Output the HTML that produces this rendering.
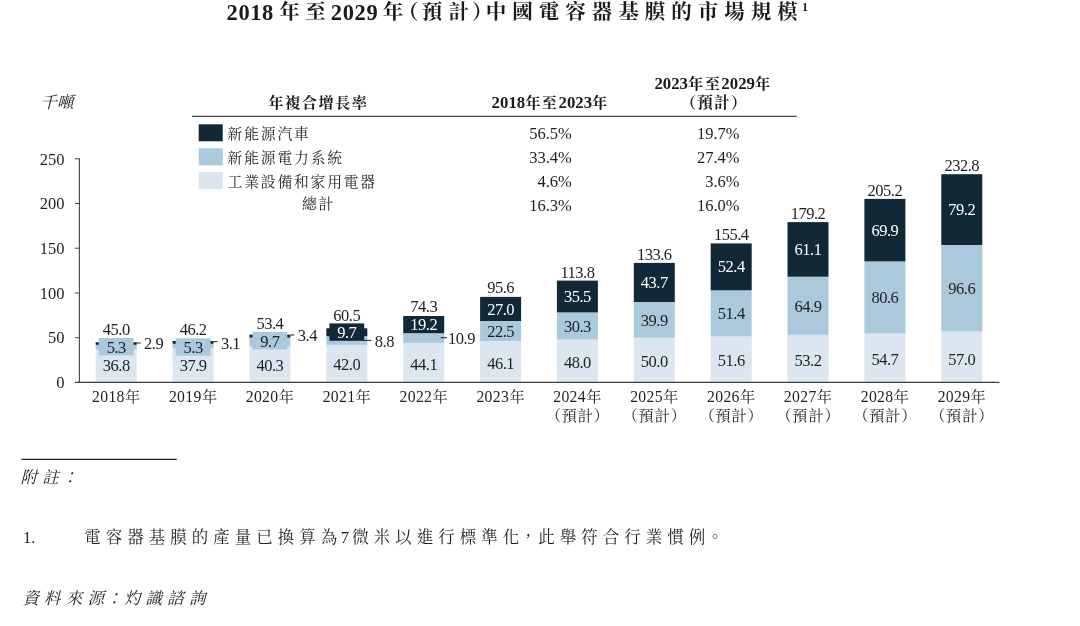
<!DOCTYPE html>
<html lang="zh-Hant">
<head>
<meta charset="utf-8">
<title>2018年至2029年（預計）中國電容器基膜的市場規模</title>
<style>
html,body{margin:0;padding:0;background:#fff;}
body{width:1080px;height:626px;overflow:hidden;}
svg{display:block;font-family:"Liberation Serif", "Noto Serif CJK TC", "Noto Serif CJK SC", serif;}
text{white-space:pre;}
</style>
</head>
<body>
<svg width="1080" height="626" viewBox="0 0 1080 626" lang="zh-Hant">
<rect x="0" y="0" width="1080" height="626" fill="#ffffff"/>
<text x="226.60" y="19.6" fill="#1a1a1a" font-size="22.5" font-weight="bold" letter-spacing="0.55">2018</text>
<text x="279.15" y="18.6" fill="#1a1a1a" font-size="20.5" font-weight="bold" letter-spacing="5.7">年至</text>
<text x="330.70" y="19.6" fill="#1a1a1a" font-size="22.5" font-weight="bold" letter-spacing="0.7">2029</text>
<text x="382.65" y="18.6" fill="#1a1a1a" font-size="20.5" font-weight="bold" letter-spacing="0">年</text>
<text x="398.00" y="18.6" fill="#1a1a1a" font-size="20.5" font-weight="bold" letter-spacing="0">（</text>
<text x="421.85" y="18.6" fill="#1a1a1a" font-size="20.5" font-weight="bold" letter-spacing="6.2">預計</text>
<text x="472.00" y="18.6" fill="#1a1a1a" font-size="20.5" font-weight="bold" letter-spacing="0">）</text>
<text x="485.85" y="18.6" fill="#1a1a1a" font-size="20.5" font-weight="bold" letter-spacing="6.0">中國電容器基膜的市場規模</text>
<text x="802" y="11.3" fill="#1a1a1a" font-size="12" font-weight="bold">1</text>
<text x="40.6" y="108.3" text-anchor="start" fill="#1f1f1f" font-size="16.5" font-style="italic" font-weight="400">千噸</text>
<text x="318.4" y="107.6" text-anchor="middle" fill="#1a1a1a" font-size="16.8" font-weight="bold"><tspan font-size="15.2" letter-spacing="1.5">年複合增長率</tspan></text>
<text x="550.2" y="108.4" text-anchor="middle" fill="#1a1a1a" font-size="16.8" font-weight="bold">2018<tspan font-size="15.2" letter-spacing="1.5">年至</tspan>2023<tspan font-size="15.2" letter-spacing="1.5">年</tspan></text>
<text x="713.0" y="89.0" text-anchor="middle" fill="#1a1a1a" font-size="16.8" font-weight="bold">2023<tspan font-size="15.2" letter-spacing="1.5">年至</tspan>2029<tspan font-size="15.2" letter-spacing="1.5">年</tspan></text>
<text x="680.5 697.3 714.1 730.9" y="108.0" fill="#1a1a1a" font-size="15.6" font-weight="bold">（預計）</text>
<line x1="192.0" y1="116.4" x2="796.6" y2="116.4" stroke="#444" stroke-width="1.1"/>
<rect x="198.7" y="124.3" width="24.0" height="17.0" fill="#112937"/>
<text x="227.6" y="139.2" text-anchor="start" fill="#262626" font-size="14.8" letter-spacing="1.8">新能源汽車</text>
<text x="571.8" y="139.3" text-anchor="end" fill="#1f1f1f" font-size="16.5" >56.5%</text>
<text x="739.6" y="139.3" text-anchor="end" fill="#1f1f1f" font-size="16.5" >19.7%</text>
<rect x="198.7" y="148.3" width="24.0" height="17.0" fill="#aac9dd"/>
<text x="227.6" y="163.2" text-anchor="start" fill="#262626" font-size="14.8" letter-spacing="1.8">新能源電力系統</text>
<text x="571.8" y="163.3" text-anchor="end" fill="#1f1f1f" font-size="16.5" >33.4%</text>
<text x="739.6" y="163.3" text-anchor="end" fill="#1f1f1f" font-size="16.5" >27.4%</text>
<rect x="198.7" y="172.1" width="24.0" height="17.0" fill="#dbe6f0"/>
<text x="227.6" y="187.0" text-anchor="start" fill="#262626" font-size="14.8" letter-spacing="1.8">工業設備和家用電器</text>
<text x="571.8" y="187.1" text-anchor="end" fill="#1f1f1f" font-size="16.5" >4.6%</text>
<text x="739.6" y="187.1" text-anchor="end" fill="#1f1f1f" font-size="16.5" >3.6%</text>
<text x="318.6" y="209.0" text-anchor="middle" fill="#262626" font-size="14.8" letter-spacing="1.8">總計</text>
<text x="571.8" y="210.5" text-anchor="end" fill="#1f1f1f" font-size="16.5" >16.3%</text>
<text x="739.6" y="210.5" text-anchor="end" fill="#1f1f1f" font-size="16.5" >16.0%</text>
<rect x="95.7" y="349.5" width="41.0" height="32.9" fill="#dbe6f0"/>
<rect x="95.7" y="344.7" width="41.0" height="4.7" fill="#aac9dd"/>
<rect x="95.7" y="342.2" width="41.0" height="2.6" fill="#112937"/>
<text x="116.2" y="371.2" text-anchor="middle" fill="#1f1f1f" font-size="16.5" letter-spacing="-0.5">36.8</text>
<rect x="98.8" y="338.0" width="34.8" height="17.4" fill="#aac9dd"/>
<text x="116.2" y="352.6" text-anchor="middle" fill="#1f1f1f" font-size="16.5" letter-spacing="-0.5">5.3</text>
<line x1="136.7" y1="343.0" x2="140.7" y2="343.0" stroke="#222" stroke-width="1"/>
<text x="144.0" y="349.2" text-anchor="start" fill="#1f1f1f" font-size="16.5" letter-spacing="-0.5">2.9</text>
<text x="116.2" y="334.7" text-anchor="middle" fill="#1f1f1f" font-size="16.5" letter-spacing="-0.5">45.0</text>
<text x="116.3" y="402.0" text-anchor="middle" fill="#1f1f1f" font-size="15.7" letter-spacing="0.35">2018<tspan font-size="15.2" dx="0.2">年</tspan></text>
<rect x="172.6" y="348.5" width="41.0" height="33.9" fill="#dbe6f0"/>
<rect x="172.6" y="343.8" width="41.0" height="4.7" fill="#aac9dd"/>
<rect x="172.6" y="341.0" width="41.0" height="2.8" fill="#112937"/>
<text x="193.1" y="370.7" text-anchor="middle" fill="#1f1f1f" font-size="16.5" letter-spacing="-0.5">37.9</text>
<rect x="175.7" y="338.3" width="34.8" height="17.4" fill="#aac9dd"/>
<text x="193.1" y="352.9" text-anchor="middle" fill="#1f1f1f" font-size="16.5" letter-spacing="-0.5">5.3</text>
<line x1="213.6" y1="341.7" x2="217.6" y2="341.7" stroke="#222" stroke-width="1"/>
<text x="220.9" y="348.6" text-anchor="start" fill="#1f1f1f" font-size="16.5" letter-spacing="-0.5">3.1</text>
<text x="193.1" y="335.0" text-anchor="middle" fill="#1f1f1f" font-size="16.5" letter-spacing="-0.5">46.2</text>
<text x="193.2" y="402.0" text-anchor="middle" fill="#1f1f1f" font-size="15.7" letter-spacing="0.35">2019<tspan font-size="15.2" dx="0.2">年</tspan></text>
<rect x="249.4" y="346.4" width="41.0" height="36.0" fill="#dbe6f0"/>
<rect x="249.4" y="337.7" width="41.0" height="8.7" fill="#aac9dd"/>
<rect x="249.4" y="334.6" width="41.0" height="3.0" fill="#112937"/>
<text x="269.9" y="370.6" text-anchor="middle" fill="#1f1f1f" font-size="16.5" letter-spacing="-0.5">40.3</text>
<rect x="252.5" y="331.9" width="34.8" height="17.4" fill="#aac9dd"/>
<text x="269.9" y="346.5" text-anchor="middle" fill="#1f1f1f" font-size="16.5" letter-spacing="-0.5">9.7</text>
<line x1="290.4" y1="335.0" x2="294.4" y2="335.0" stroke="#222" stroke-width="1"/>
<text x="297.8" y="341.2" text-anchor="start" fill="#1f1f1f" font-size="16.5" letter-spacing="-0.5">3.4</text>
<text x="269.9" y="328.6" text-anchor="middle" fill="#1f1f1f" font-size="16.5" letter-spacing="-0.5">53.4</text>
<text x="270.0" y="402.0" text-anchor="middle" fill="#1f1f1f" font-size="15.7" letter-spacing="0.35">2020<tspan font-size="15.2" dx="0.2">年</tspan></text>
<rect x="326.3" y="344.8" width="41.0" height="37.6" fill="#dbe6f0"/>
<rect x="326.3" y="336.2" width="41.0" height="8.7" fill="#aac9dd"/>
<rect x="326.3" y="328.3" width="41.0" height="7.9" fill="#112937"/>
<text x="346.8" y="370.1" text-anchor="middle" fill="#1f1f1f" font-size="16.5" letter-spacing="-0.5">42.0</text>
<rect x="329.4" y="323.4" width="34.8" height="17.4" fill="#112937"/>
<text x="346.8" y="338.0" text-anchor="middle" fill="#fff" font-size="16.5" letter-spacing="-0.5">9.7</text>
<line x1="363.8" y1="340.4" x2="371.3" y2="340.4" stroke="#222" stroke-width="1"/>
<text x="374.8" y="347.4" text-anchor="start" fill="#1f1f1f" font-size="16.5" letter-spacing="-0.5">8.8</text>
<text x="346.8" y="320.8" text-anchor="middle" fill="#1f1f1f" font-size="16.5" letter-spacing="-0.5">60.5</text>
<text x="346.9" y="402.0" text-anchor="middle" fill="#1f1f1f" font-size="15.7" letter-spacing="0.35">2021<tspan font-size="15.2" dx="0.2">年</tspan></text>
<rect x="403.2" y="343.0" width="41.0" height="39.4" fill="#dbe6f0"/>
<rect x="403.2" y="333.2" width="41.0" height="9.7" fill="#aac9dd"/>
<rect x="403.2" y="316.0" width="41.0" height="17.2" fill="#112937"/>
<text x="423.7" y="369.6" text-anchor="middle" fill="#1f1f1f" font-size="16.5" letter-spacing="-0.5">44.1</text>
<text x="423.7" y="330.2" text-anchor="middle" fill="#fff" font-size="16.5" letter-spacing="-0.5">19.2</text>
<line x1="440.7" y1="337.7" x2="447.0" y2="337.7" stroke="#222" stroke-width="1"/>
<text x="448.0" y="343.6" text-anchor="start" fill="#1f1f1f" font-size="16.5" letter-spacing="-0.5">10.9</text>
<text x="423.7" y="311.9" text-anchor="middle" fill="#1f1f1f" font-size="16.5" letter-spacing="-0.5">74.3</text>
<text x="423.8" y="402.0" text-anchor="middle" fill="#1f1f1f" font-size="15.7" letter-spacing="0.35">2022<tspan font-size="15.2" dx="0.2">年</tspan></text>
<rect x="480.1" y="341.2" width="41.0" height="41.2" fill="#dbe6f0"/>
<rect x="480.1" y="321.0" width="41.0" height="20.1" fill="#aac9dd"/>
<rect x="480.1" y="296.9" width="41.0" height="24.1" fill="#112937"/>
<text x="500.6" y="369.2" text-anchor="middle" fill="#1f1f1f" font-size="16.5" letter-spacing="-0.5">46.1</text>
<text x="500.6" y="336.8" text-anchor="middle" fill="#1f1f1f" font-size="16.5" letter-spacing="-0.5">22.5</text>
<text x="500.6" y="314.5" text-anchor="middle" fill="#fff" font-size="16.5" letter-spacing="-0.5">27.0</text>
<text x="500.6" y="293.1" text-anchor="middle" fill="#1f1f1f" font-size="16.5" letter-spacing="-0.5">95.6</text>
<text x="500.7" y="402.0" text-anchor="middle" fill="#1f1f1f" font-size="15.7" letter-spacing="0.35">2023<tspan font-size="15.2" dx="0.2">年</tspan></text>
<rect x="556.9" y="339.5" width="41.0" height="42.9" fill="#dbe6f0"/>
<rect x="556.9" y="312.4" width="41.0" height="27.1" fill="#aac9dd"/>
<rect x="556.9" y="280.6" width="41.0" height="31.8" fill="#112937"/>
<text x="577.4" y="367.9" text-anchor="middle" fill="#1f1f1f" font-size="16.5" letter-spacing="-0.5">48.0</text>
<text x="577.4" y="331.6" text-anchor="middle" fill="#1f1f1f" font-size="16.5" letter-spacing="-0.5">30.3</text>
<text x="577.4" y="302.1" text-anchor="middle" fill="#fff" font-size="16.5" letter-spacing="-0.5">35.5</text>
<text x="577.4" y="277.7" text-anchor="middle" fill="#1f1f1f" font-size="16.5" letter-spacing="-0.5">113.8</text>
<text x="577.5" y="402.0" text-anchor="middle" fill="#1f1f1f" font-size="15.7" letter-spacing="0.35">2024<tspan font-size="15.2" dx="0.2">年</tspan></text>
<text x="545.7 561.4 577.8 593.8" y="421.3" fill="#1f1f1f" font-size="15.3">（預計）</text>
<rect x="633.8" y="337.7" width="41.0" height="44.7" fill="#dbe6f0"/>
<rect x="633.8" y="302.0" width="41.0" height="35.7" fill="#aac9dd"/>
<rect x="633.8" y="262.9" width="41.0" height="39.1" fill="#112937"/>
<text x="654.3" y="367.0" text-anchor="middle" fill="#1f1f1f" font-size="16.5" letter-spacing="-0.5">50.0</text>
<text x="654.3" y="325.5" text-anchor="middle" fill="#1f1f1f" font-size="16.5" letter-spacing="-0.5">39.9</text>
<text x="654.3" y="288.0" text-anchor="middle" fill="#fff" font-size="16.5" letter-spacing="-0.5">43.7</text>
<text x="654.3" y="259.8" text-anchor="middle" fill="#1f1f1f" font-size="16.5" letter-spacing="-0.5">133.6</text>
<text x="654.4" y="402.0" text-anchor="middle" fill="#1f1f1f" font-size="15.7" letter-spacing="0.35">2025<tspan font-size="15.2" dx="0.2">年</tspan></text>
<text x="622.6 638.3 654.7 670.7" y="421.3" fill="#1f1f1f" font-size="15.3">（預計）</text>
<rect x="710.7" y="336.2" width="41.0" height="46.2" fill="#dbe6f0"/>
<rect x="710.7" y="290.3" width="41.0" height="46.0" fill="#aac9dd"/>
<rect x="710.7" y="243.4" width="41.0" height="46.9" fill="#112937"/>
<text x="731.2" y="366.3" text-anchor="middle" fill="#1f1f1f" font-size="16.5" letter-spacing="-0.5">51.6</text>
<text x="731.2" y="318.9" text-anchor="middle" fill="#1f1f1f" font-size="16.5" letter-spacing="-0.5">51.4</text>
<text x="731.2" y="272.4" text-anchor="middle" fill="#fff" font-size="16.5" letter-spacing="-0.5">52.4</text>
<text x="731.2" y="240.1" text-anchor="middle" fill="#1f1f1f" font-size="16.5" letter-spacing="-0.5">155.4</text>
<text x="731.3" y="402.0" text-anchor="middle" fill="#1f1f1f" font-size="15.7" letter-spacing="0.35">2026<tspan font-size="15.2" dx="0.2">年</tspan></text>
<text x="699.5 715.2 731.6 747.6" y="421.3" fill="#1f1f1f" font-size="15.3">（預計）</text>
<rect x="787.5" y="334.8" width="41.0" height="47.6" fill="#dbe6f0"/>
<rect x="787.5" y="276.8" width="41.0" height="58.0" fill="#aac9dd"/>
<rect x="787.5" y="222.1" width="41.0" height="54.6" fill="#112937"/>
<text x="808.0" y="365.6" text-anchor="middle" fill="#1f1f1f" font-size="16.5" letter-spacing="-0.5">53.2</text>
<text x="808.0" y="311.5" text-anchor="middle" fill="#1f1f1f" font-size="16.5" letter-spacing="-0.5">64.9</text>
<text x="808.0" y="255.0" text-anchor="middle" fill="#fff" font-size="16.5" letter-spacing="-0.5">61.1</text>
<text x="808.0" y="218.8" text-anchor="middle" fill="#1f1f1f" font-size="16.5" letter-spacing="-0.5">179.2</text>
<text x="808.1" y="402.0" text-anchor="middle" fill="#1f1f1f" font-size="15.7" letter-spacing="0.35">2027<tspan font-size="15.2" dx="0.2">年</tspan></text>
<text x="776.3 792.0 808.4 824.4" y="421.3" fill="#1f1f1f" font-size="15.3">（預計）</text>
<rect x="864.4" y="333.5" width="41.0" height="48.9" fill="#dbe6f0"/>
<rect x="864.4" y="261.4" width="41.0" height="72.1" fill="#aac9dd"/>
<rect x="864.4" y="198.9" width="41.0" height="62.5" fill="#112937"/>
<text x="884.9" y="364.9" text-anchor="middle" fill="#1f1f1f" font-size="16.5" letter-spacing="-0.5">54.7</text>
<text x="884.9" y="303.1" text-anchor="middle" fill="#1f1f1f" font-size="16.5" letter-spacing="-0.5">80.6</text>
<text x="884.9" y="235.7" text-anchor="middle" fill="#fff" font-size="16.5" letter-spacing="-0.5">69.9</text>
<text x="884.9" y="195.6" text-anchor="middle" fill="#1f1f1f" font-size="16.5" letter-spacing="-0.5">205.2</text>
<text x="885.0" y="402.0" text-anchor="middle" fill="#1f1f1f" font-size="15.7" letter-spacing="0.35">2028<tspan font-size="15.2" dx="0.2">年</tspan></text>
<text x="853.2 868.9 885.3 901.3" y="421.3" fill="#1f1f1f" font-size="15.3">（預計）</text>
<rect x="941.3" y="331.4" width="41.0" height="51.0" fill="#dbe6f0"/>
<rect x="941.3" y="245.0" width="41.0" height="86.4" fill="#aac9dd"/>
<rect x="941.3" y="174.2" width="41.0" height="70.8" fill="#112937"/>
<text x="961.8" y="364.7" text-anchor="middle" fill="#1f1f1f" font-size="16.5" letter-spacing="-0.5">57.0</text>
<text x="961.8" y="293.9" text-anchor="middle" fill="#1f1f1f" font-size="16.5" letter-spacing="-0.5">96.6</text>
<text x="961.8" y="215.2" text-anchor="middle" fill="#fff" font-size="16.5" letter-spacing="-0.5">79.2</text>
<text x="961.8" y="170.9" text-anchor="middle" fill="#1f1f1f" font-size="16.5" letter-spacing="-0.5">232.8</text>
<text x="961.9" y="402.0" text-anchor="middle" fill="#1f1f1f" font-size="15.7" letter-spacing="0.35">2029<tspan font-size="15.2" dx="0.2">年</tspan></text>
<text x="930.1 945.8 962.2 978.2" y="421.3" fill="#1f1f1f" font-size="15.3">（預計）</text>
<line x1="79.4" y1="158.3" x2="79.4" y2="382.9" stroke="#444" stroke-width="1.1"/>
<line x1="74.9" y1="382.3" x2="999.5" y2="382.3" stroke="#3c3c3c" stroke-width="1.2"/>
<text x="64.4" y="388.2" text-anchor="end" fill="#1f1f1f" font-size="16.5" >0</text>
<line x1="74.9" y1="337.7" x2="79.4" y2="337.7" stroke="#444" stroke-width="1.0"/>
<text x="64.4" y="343.4" text-anchor="end" fill="#1f1f1f" font-size="16.5" >50</text>
<line x1="74.9" y1="293.0" x2="79.4" y2="293.0" stroke="#444" stroke-width="1.0"/>
<text x="64.4" y="298.7" text-anchor="end" fill="#1f1f1f" font-size="16.5" >100</text>
<line x1="74.9" y1="248.2" x2="79.4" y2="248.2" stroke="#444" stroke-width="1.0"/>
<text x="64.4" y="254.0" text-anchor="end" fill="#1f1f1f" font-size="16.5" >150</text>
<line x1="74.9" y1="203.5" x2="79.4" y2="203.5" stroke="#444" stroke-width="1.0"/>
<text x="64.4" y="209.3" text-anchor="end" fill="#1f1f1f" font-size="16.5" >200</text>
<line x1="74.9" y1="158.8" x2="79.4" y2="158.8" stroke="#444" stroke-width="1.0"/>
<text x="64.4" y="164.6" text-anchor="end" fill="#1f1f1f" font-size="16.5" >250</text>
<line x1="21.4" y1="459.3" x2="176.7" y2="459.3" stroke="#222" stroke-width="1.2"/>
<text x="20.6" y="482.8" text-anchor="start" fill="#1f1f1f" font-size="16.5" font-style="italic" font-weight="400" letter-spacing="5.2">附註<tspan dx="-2.5">：</tspan></text>
<text x="23.0" y="543.2" text-anchor="start" fill="#1f1f1f" font-size="16.5" >1.</text>
<text x="84.2" y="542.8" text-anchor="start" fill="#1f1f1f" font-size="16.5" letter-spacing="5.0">電容器基膜的產量已換算為<tspan dx="-1.5">7</tspan><tspan dx="-1.8">微</tspan>米以進行標準化<tspan dx="-4.2">，</tspan><tspan dx="-3.2">此</tspan>舉符合行業慣例<tspan dx="-3.5">。</tspan></text>
<text x="22.4" y="603.8" text-anchor="start" fill="#1f1f1f" font-size="16.5" font-style="italic" font-weight="400" letter-spacing="5.2">資料來源<tspan dx="-3.5">：</tspan><tspan dx="-3.5">灼</tspan>識諮詢</text>
</svg>
</body>
</html>
